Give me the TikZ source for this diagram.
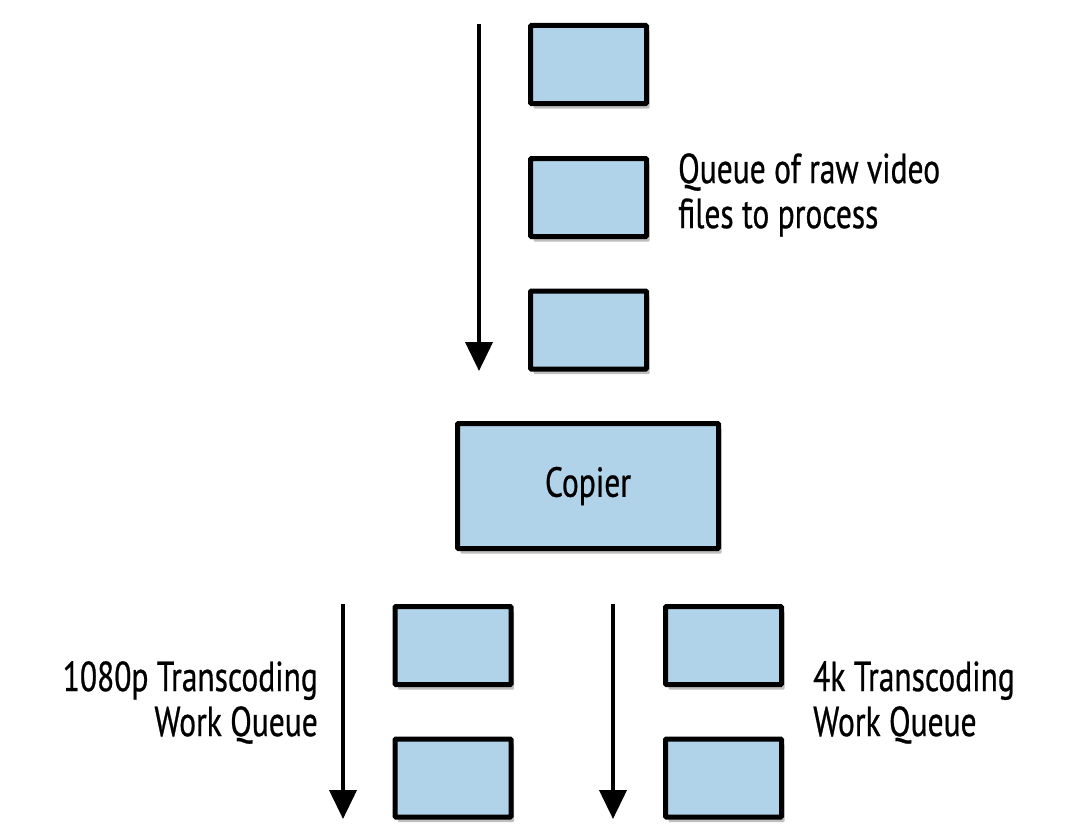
\documentclass[tikz,border=0pt]{standalone}
\usepackage{fontspec}
\setmainfont{PT Sans}[FakeStretch=0.75,FakeBold=0.6]
\usetikzlibrary{arrows.meta,shadows}
\definecolor{qblue}{HTML}{B1D3E9}
\tikzset{
  qbox/.style={draw=black, line width=5bp, fill=qblue, rectangle, rounded corners=1bp,
    minimum width=116bp, minimum height=78bp, inner sep=0,
    drop shadow={shadow xshift=3bp, shadow yshift=-5bp, opacity=0.25, fill=black}},
  copierbox/.style={qbox, minimum width=261bp, minimum height=125bp},
  flow/.style={line width=4bp, -{Triangle[width=27bp,length=29bp]}},
  lbl/.style={inner sep=0, font=\fontsize{42bp}{45bp}\selectfont}
}
\begin{document}
\begin{tikzpicture}[x=1bp,y=-1bp]
\useasboundingbox (0,0) rectangle (1070,831);
\fill[white] (0,0) rectangle (1070,831);
% top queue
\node[qbox] (q1) at (588.5,64.5) {};
\node[qbox] (q2) at (588.5,197.5) {};
\node[qbox] (q3) at (588.5,330) {};
\coordinate (ta) at (479,24);
\coordinate (tb) at (479,371);
\draw[flow] (ta) -- (tb);
\node[lbl, anchor=north west, align=left] (tq) at (678,153) {Queue of raw video\\files to process};
% copier
\node[copierbox, font=\fontsize{42bp}{45bp}\selectfont] (cp) at (588,486) {Copier};
% 1080p queue
\node[qbox] (a1) at (453,645.5) {};
\node[qbox] (a2) at (453,778) {};
\coordinate (la) at (343,604);
\coordinate (lb) at (343,819);
\draw[flow] (la) -- (lb);
\node[lbl, anchor=north east, align=right] (ta1) at (318,661) {1080p Transcoding\\Work Queue};
% 4k queue
\node[qbox] (b1) at (723.5,645.5) {};
\node[qbox] (b2) at (723.5,778) {};
\coordinate (ra) at (613,604);
\coordinate (rb) at (613,819);
\draw[flow] (ra) -- (rb);
\node[lbl, anchor=north west, align=left] (tb1) at (813,661) {4k Transcoding\\Work Queue};
\end{tikzpicture}
\end{document}
